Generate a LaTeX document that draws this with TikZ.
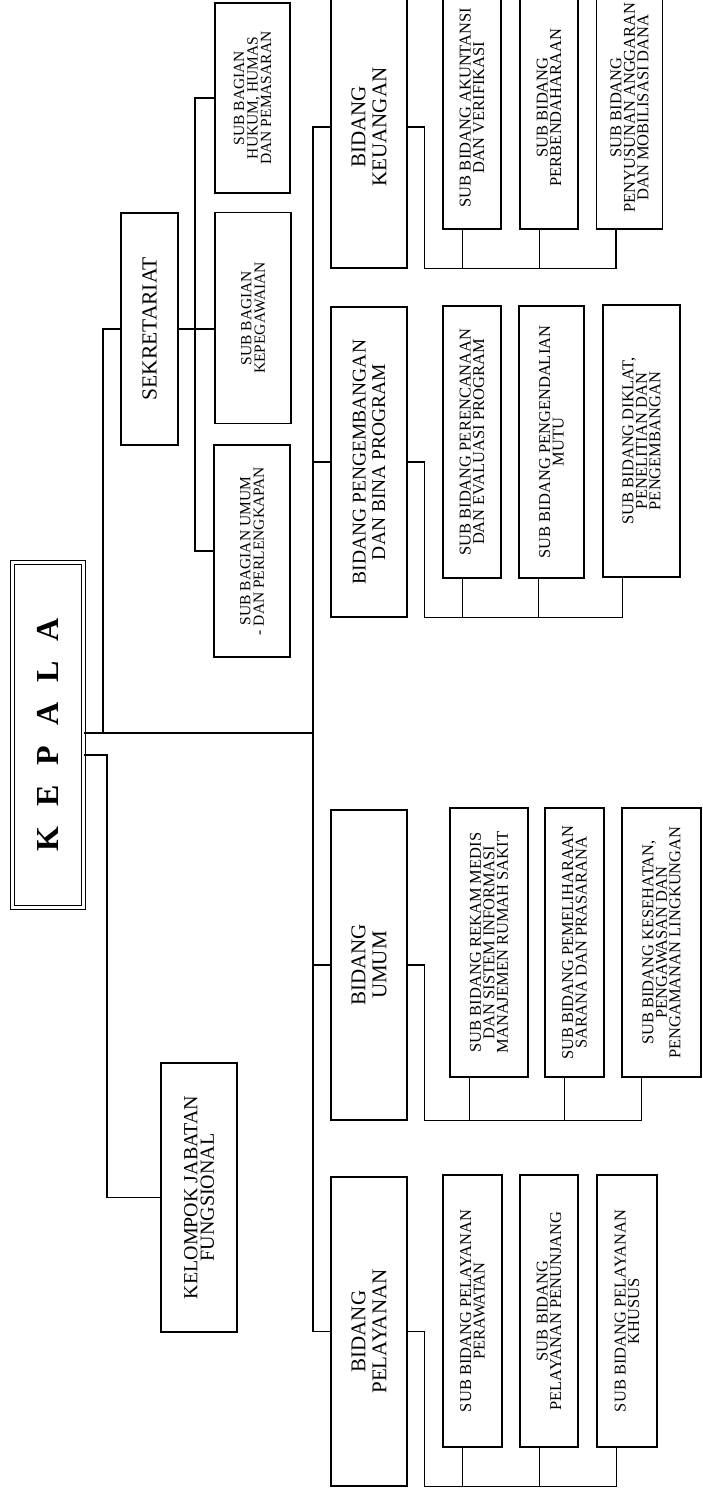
\documentclass[tikz,border=0pt]{standalone}
\usepackage{fontspec}
\setmainfont{Liberation Serif}
\usetikzlibrary{calc}
\tikzset{
  x=1pt,y=-1pt,
  box/.style={draw,rotate=90,inner sep=0pt,align=center,line width=1.4pt},
  subtxt/.style={font=\fontsize{16.5}{13.5}\selectfont},
  bagtxt/.style={font=\fontsize{15.5}{13.5}\selectfont},
  bidtxt/.style={font=\fontsize{21}{21}\selectfont},
  conn/.style={line width=1.4pt},
}
\begin{document}
\begin{tikzpicture}
\useasboundingbox (0,0) rectangle (702,1494);
\clip (0,0) rectangle (702,1494);
\fill[white] (0,0) rectangle (702,1494);

% KEPALA
\node[box,double,double distance=2.6pt,line width=1.4pt,minimum width=345pt,minimum height=71pt,
      font=\fontsize{32}{32}\selectfont\bfseries] (kepala) at (48,735) {K\hspace{20pt}E\hspace{20pt}P\hspace{20pt}A\hspace{20pt}L\hspace{20pt}A};

% Sekretariat
\node[box,minimum width=232pt,minimum height=57pt,font=\fontsize{21.5}{21.5}\selectfont] (sek) at (149.5,329) {SEKRETARIAT};
\node[box,bagtxt,minimum width=190pt,minimum height=75pt] (hukum) at (252.5,98) {SUB BAGIAN\\HUKUM, HUMAS\\DAN PEMASARAN};
\node[box,bagtxt,minimum width=211pt,minimum height=76pt] (kepeg) at (253,318) {SUB BAGIAN\\KEPEGAWAIAN};
\node[box,bagtxt,minimum width=212pt,minimum height=76pt] (subumum) at (252,551) {SUB BAGIAN UMUM\\- DAN PERLENGKAPAN};

% Kelompok
\node[box,minimum width=269pt,minimum height=76pt,font=\fontsize{20}{16.5}\selectfont] (kel) at (199,1197.5) {KELOMPOK JABATAN\\FUNGSIONAL};

% Bidang
\node[box,bidtxt,minimum width=282pt,minimum height=76pt] (keu) at (369,127) {BIDANG\\KEUANGAN};
\node[box,minimum width=310pt,minimum height=76pt,font=\fontsize{19.5}{19.5}\selectfont] (peng) at (369,462) {BIDANG PENGEMBANGAN\\DAN BINA PROGRAM};
\node[box,bidtxt,minimum width=310pt,minimum height=76pt] (umum) at (369,965) {BIDANG\\UMUM};
\node[box,bidtxt,minimum width=309pt,minimum height=76pt] (pel) at (369,1331.5) {BIDANG\\PELAYANAN};

% Sub bidang keuangan
\node[box,subtxt,minimum width=243pt,minimum height=58pt] (ks1) at (472,107.5) {SUB BIDANG AKUNTANSI\\DAN VERIFIKASI};
\node[box,subtxt,minimum width=243pt,minimum height=58pt] (ks2) at (549,107.5) {SUB BIDANG\\PERBENDAHARAAN};
\node[box,subtxt,minimum width=243pt,minimum height=66pt] (ks3) at (629.5,107.5) {SUB BIDANG\\PENYUSUNAN ANGGARAN\\DAN MOBILISASI DANA};

% Sub bidang pengembangan
\node[box,subtxt,minimum width=272pt,minimum height=58pt] (ps1) at (472,442) {SUB BIDANG PERENCANAAN\\DAN EVALUASI PROGRAM};
\node[box,subtxt,minimum width=272pt,minimum height=65pt] (ps2) at (551.5,442) {SUB BIDANG PENGENDALIAN\\MUTU};
\node[box,subtxt,minimum width=272pt,minimum height=77pt] (ps3) at (641.5,441) {SUB BIDANG DIKLAT,\\PENELITIAN DAN\\PENGEMBANGAN};

% Sub bidang umum
\node[box,subtxt,minimum width=269pt,minimum height=78pt] (us1) at (489,942.5) {SUB BIDANG REKAM MEDIS\\DAN SISTEM INFORMASI\\MANAJEMEN RUMAH SAKIT};
\node[box,subtxt,minimum width=269pt,minimum height=59pt] (us2) at (574.5,942.5) {SUB BIDANG PEMELIHARAAN\\SARANA DAN PRASARANA};
\node[box,subtxt,minimum width=269pt,minimum height=79pt] (us3) at (661.5,942.5) {SUB BIDANG KESEHATAN,\\PENGAWASAN DAN\\PENGAMANAN LINGKUNGAN};

% Sub bidang pelayanan
\node[box,subtxt,minimum width=272pt,minimum height=59pt] (ls1) at (472.5,1311) {SUB BIDANG PELAYANAN\\PERAWATAN};
\node[box,subtxt,minimum width=58pt,minimum width=272pt,minimum height=58pt] (ls2) at (549,1311) {SUB BIDANG\\PELAYANAN PENUNJANG};
\node[box,subtxt,minimum width=272pt,minimum height=60pt] (ls3) at (627,1311) {SUB BIDANG PELAYANAN\\KHUSUS};

% ---- connectors ----
\coordinate (j1) at (313,733);
\coordinate (j2) at (103,733);
\coordinate (j3) at (107,755);
\coordinate (sx) at (195,0);

\draw[conn] (kepala.south |- j1) -- (j1);
\draw[conn] (sek.north) -| (j2);
\draw[conn] (kepala.south |- j3) -- (j3) |- (kel.north);

% secretariat subs
\draw[conn] (hukum.north) -| (sx |- subumum.north) -- (subumum.north);
\draw[conn] (sek.south) -- (sek.south -| kepeg.north);

% main bus
\draw[conn] (keu.north) -- (keu.north -| j1) -- (pel.north -| j1) -- (pel.north);
\draw[conn] (peng.north) -- (peng.north -| j1);
\draw[conn] (umum.north) -- (umum.north -| j1);

% group buses
\foreach \b/\s in {keu/ks,peng/ps,umum/us,pel/ls}{
  \coordinate (\b c) at ($(\b.south west)+(17,0)$);
  \coordinate (\s1b) at ($(\s1.north west)+(20,0)$);
  \coordinate (\s2b) at ($(\s2.north west)+(20,0)$);
  \coordinate (\s3b) at ($(\s3.north west)+(20,0)$);
  \draw[conn] (\b.south) -| (\b c) -| (\s3b);
  \draw[conn] (\s1b) -- (\s1b |- \b c);
  \draw[conn] (\s2b) -- (\s2b |- \b c);
}
\end{tikzpicture}
\end{document}
